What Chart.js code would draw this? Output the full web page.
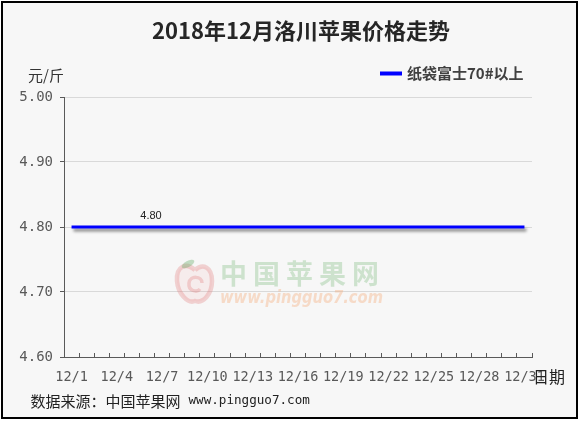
<!DOCTYPE html>
<html>
<head>
<meta charset="utf-8">
<script src="https://cdn.jsdelivr.net/npm/chart.js@4.4.1/dist/chart.umd.min.js"></script>
<style>
  html, body { margin: 0; padding: 0; background: #ffffff; }
  #wrap { width: 580px; height: 421px; }
</style>
</head>
<body>
<div id="wrap"><canvas id="c" width="580" height="421"></canvas></div>
<script>
// Texts
const chartTitle = '2018年12月洛川苹果价格走势';
const unitLabel = '元/斤';
const axisLabelX = '日期';
const seriesName = '纸袋富士70#以上';
const sourceNote = '数据来源：中国苹果网';
const sourceSite = 'www.pingguo7.com';
const markName = '中国苹果网';

// Days of December 2018
const days = ['12/1','12/2','12/3','12/4','12/5','12/6','12/7','12/8','12/9','12/10',
              '12/11','12/12','12/13','12/14','12/15','12/16','12/17','12/18','12/19','12/20',
              '12/21','12/22','12/23','12/24','12/25','12/26','12/27','12/28','12/29','12/30','12/31'];

// Price, yuan per jin
const prices = [4.80,4.80,4.80,4.80,4.80,4.80,4.80,4.80,4.80,4.80,
                4.80,4.80,4.80,4.80,4.80,4.80,4.80,4.80,4.80,4.80,
                4.80,4.80,4.80,4.80,4.80,4.80,4.80,4.80,4.80,4.80,4.80];

// Y axis ticks
const yTicks = [4.60, 4.70, 4.80, 4.90, 5.00];

// Day that carries a value label
const labelledDay = '12/6';

const LINE_BLUE = '#0000ff';
const AXIS_GREY = '#595959';
const MONO = 'DejaVu Sans Mono';

// Card background and black frame
const framePlugin = {
  id: 'frame',
  beforeDraw(chart) {
    const ctx = chart.ctx;
    ctx.save();
    ctx.fillStyle = '#ffffff';
    ctx.fillRect(0, 0, chart.width, chart.height);
    ctx.fillStyle = '#f7f7f7';
    ctx.fillRect(2, 2, 575, 416);
    ctx.strokeStyle = '#000000';
    ctx.lineWidth = 2;
    ctx.strokeRect(2, 2, 575, 416);
    ctx.restore();
  }
};

// Faint site watermark behind the series
const watermarkPlugin = {
  id: 'watermark',
  beforeDatasetsDraw(chart) {
    const ctx = chart.ctx;
    ctx.save();
    // apple body
    ctx.strokeStyle = 'rgba(226,120,120,0.30)';
    ctx.fillStyle = 'rgba(240,170,170,0.14)';
    ctx.lineWidth = 4.5;
    ctx.beginPath();
    ctx.moveTo(195, 270);
    ctx.bezierCurveTo(186, 262, 176, 266, 177, 281);
    ctx.bezierCurveTo(178, 294, 188, 304, 195, 301);
    ctx.bezierCurveTo(203, 304, 212, 294, 212, 281);
    ctx.bezierCurveTo(212, 267, 203, 263, 195, 270);
    ctx.fill();
    ctx.stroke();
    // inner curl
    ctx.lineWidth = 3.5;
    ctx.beginPath();
    ctx.moveTo(202, 283);
    ctx.bezierCurveTo(202, 276, 190, 275, 189, 283);
    ctx.bezierCurveTo(188, 291, 197, 293, 200, 289);
    ctx.stroke();
    // leaf
    ctx.fillStyle = 'rgba(110,175,110,0.40)';
    ctx.beginPath();
    ctx.ellipse(188, 264, 7, 3, -0.5, 0, Math.PI * 2);
    ctx.fill();
    // site name
    ctx.fillStyle = 'rgba(120,185,120,0.33)';
    ctx.font = 'bold 27px "Noto Sans CJK SC"';
    ctx.textBaseline = 'middle';
    ctx.textAlign = 'left';
    let x = 220;
    for (const ch of markName) {
      ctx.fillText(ch, x, 274);
      x += 33;
    }
    ctx.fillStyle = 'rgba(245,170,120,0.38)';
    ctx.font = 'italic bold 17px "DejaVu Sans"';
    const w = ctx.measureText(sourceSite).width;
    ctx.save();
    ctx.translate(220, 299);
    ctx.scale(163 / w, 1);
    ctx.fillText(sourceSite, 0, 0);
    ctx.restore();
    ctx.restore();
  }
};

// Drop shadow under the price line
const shadowPlugin = {
  id: 'lineShadow',
  beforeDatasetDraw(chart) {
    const ctx = chart.ctx;
    ctx.save();
    ctx.shadowColor = 'rgba(0,0,0,0.45)';
    ctx.shadowBlur = 3;
    ctx.shadowOffsetX = 2;
    ctx.shadowOffsetY = 3;
  },
  afterDatasetDraw(chart) {
    chart.ctx.restore();
  }
};

// Value label on one point
const valueLabelPlugin = {
  id: 'valueLabel',
  afterDatasetsDraw(chart) {
    const idx = days.indexOf(labelledDay);
    const pt = chart.getDatasetMeta(0).data[idx];
    if (!pt) return;
    const ctx = chart.ctx;
    ctx.save();
    ctx.fillStyle = '#222222';
    ctx.font = '11px "Liberation Sans"';
    ctx.textAlign = 'center';
    ctx.textBaseline = 'middle';
    ctx.fillText(prices[idx].toFixed(2), pt.x + 4, pt.y - 11);
    ctx.restore();
  }
};

// Title, unit, legend, axis name and source line
const textPlugin = {
  id: 'texts',
  afterDraw(chart) {
    const ctx = chart.ctx;
    ctx.save();
    ctx.textBaseline = 'middle';

    ctx.fillStyle = '#262626';
    ctx.font = 'bold 22px "Noto Sans CJK SC"';
    ctx.textAlign = 'center';
    ctx.fillText(chartTitle, 301, 31);

    ctx.textAlign = 'left';
    ctx.fillStyle = '#333333';
    ctx.font = '15px "Noto Sans CJK SC"';
    ctx.fillText(unitLabel, 28, 75);

    // legend
    ctx.strokeStyle = chart.data.datasets[0].borderColor;
    ctx.lineWidth = 4;
    ctx.beginPath();
    ctx.moveTo(380, 73.5);
    ctx.lineTo(402, 73.5);
    ctx.stroke();
    ctx.fillStyle = '#404040';
    ctx.font = 'bold 15px "Noto Sans CJK SC"';
    ctx.fillText(chart.data.datasets[0].label, 407, 73.5);

    ctx.fillStyle = '#222222';
    ctx.font = '16px "Noto Sans CJK SC"';
    ctx.fillText(axisLabelX, 533, 377);

    ctx.fillStyle = '#222222';
    ctx.font = '15px "Noto Sans CJK SC"';
    ctx.fillText(sourceNote, 30.5, 401);
    const w = ctx.measureText(sourceNote).width;
    ctx.font = '12.6px "' + MONO + '"';
    ctx.fillText(sourceSite, 30.5 + w + 8, 401);
    ctx.restore();
  }
};

new Chart(document.getElementById('c'), {
  type: 'line',
  data: {
    labels: days,
    datasets: [{
      label: seriesName,
      data: prices,
      borderColor: LINE_BLUE,
      backgroundColor: LINE_BLUE,
      borderWidth: 3,
      pointRadius: 0,
      tension: 0,
      fill: false
    }]
  },
  options: {
    responsive: false,
    animation: false,
    layout: { padding: { top: 97, right: 48, left: 0, bottom: 0 } },
    plugins: {
      legend: { display: false },
      title: { display: false },
      tooltip: { enabled: false }
    },
    scales: {
      x: {
        type: 'category',
        offset: true,
        grid: {
          offset: true,
          drawOnChartArea: false,
          drawTicks: true,
          tickLength: -4,
          tickColor: AXIS_GREY
        },
        border: { color: AXIS_GREY, width: 1 },
        ticks: {
          autoSkip: false,
          maxRotation: 0,
          minRotation: 0,
          padding: 16,
          color: AXIS_GREY,
          font: { family: MONO, size: 13.5 },
          callback(value, index) {
            return index % 3 === 0 ? this.getLabelForValue(value) : '';
          }
        },
        afterFit(scale) { scale.height = 64; }
      },
      y: {
        min: yTicks[0],
        max: yTicks[yTicks.length - 1],
        afterBuildTicks(scale) { scale.ticks = yTicks.map(v => ({ value: v })); },
        grid: { color: '#d9d9d9', tickColor: AXIS_GREY, tickLength: 4 },
        border: { color: AXIS_GREY, width: 1 },
        ticks: {
          padding: 7,
          color: AXIS_GREY,
          font: { family: MONO, size: 14 },
          callback: v => Number(v).toFixed(2)
        },
        afterFit(scale) { scale.width = 64; }
      }
    }
  },
  plugins: [framePlugin, watermarkPlugin, shadowPlugin, valueLabelPlugin, textPlugin]
});
</script>
</body>
</html>
